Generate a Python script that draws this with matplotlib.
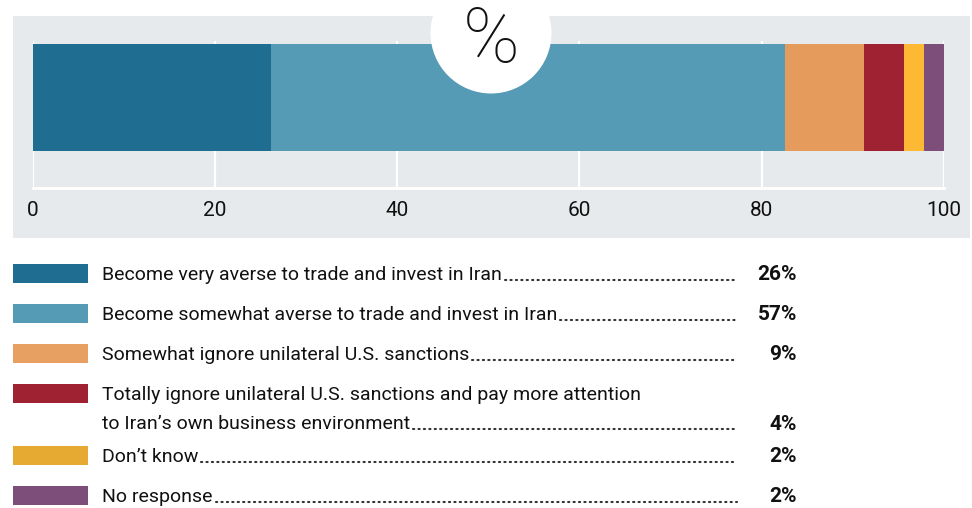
import numpy as np
import matplotlib
matplotlib.use('Agg')
import matplotlib.pyplot as plt
from matplotlib.patches import Rectangle, Ellipse

# shares (percent of respondents)
categories = [
    'Become very averse to trade and invest in Iran',
    'Become somewhat averse to trade and invest in Iran',
    'Somewhat ignore unilateral U.S. sanctions',
    'Totally ignore unilateral U.S. sanctions and pay more attention\nto Iran\u2019s own business environment',
    'Don\u2019t know',
    'No response',
]
shares = [26.1, 56.5, 8.7, 4.3, 2.2, 2.2]
share_labels = ['26%', '57%', '9%', '4%', '2%', '2%']
bar_colors = ['#1f6e91', '#559bb6', '#e49b5c', '#9e2232', '#fdb934', '#7d4e79']
swatch_colors = ['#1f6e91', '#559bb6', '#e8a062', '#9e2232', '#e6aa32', '#7d4e79']
xticks = [0, 20, 40, 60, 80, 100]

W, H = 972, 508
FONT = ['Roboto', 'DejaVu Sans']
plt.rcParams['font.family'] = FONT

fig = plt.figure(figsize=(W / 100, H / 100), dpi=100)
fig.patch.set_facecolor('white')

def fx(px):
    return px / W

def fy(py):
    return 1 - py / H

# gray panel behind the bar
fig.add_artist(Rectangle((fx(13), fy(238)), fx(970) - fx(13), fy(16) - fy(238),
                         transform=fig.transFigure, facecolor='#e7eaec',
                         edgecolor='none', zorder=-1))

ax = fig.add_axes([fx(33), fy(188), fx(943.7) - fx(33), fy(41) - fy(188)])
ax.set_facecolor('none')
ax.set_xlim(0, 100)
ax.set_ylim(0, 1)
left = 0
for v, c in zip(shares, bar_colors):
    ax.barh(0.616, v, left=left, height=0.728, color=c, edgecolor='none', zorder=2)
    left += v
for t in xticks:
    ax.axvline(t, color='white', lw=1.6, zorder=1)
for s in ['top', 'left', 'right']:
    ax.spines[s].set_visible(False)
ax.spines['bottom'].set_color('white')
ax.spines['bottom'].set_linewidth(2)
ax.set_yticks([])
ax.set_xticks(xticks)
ax.tick_params(axis='x', length=0, pad=9, labelsize=15, labelcolor='#111111')

# percent badge
fig.add_artist(Ellipse((fx(491), fy(33)), fx(121), 121 / H, transform=fig.transFigure,
                       facecolor='white', edgecolor='none', zorder=3))
fig.text(fx(491), fy(62), '%', ha='center', va='baseline', fontsize=55,
         fontweight='light', color='#111111', zorder=4)

# legend
row_y = [273, 313, 353, 393, 455, 495]
line_gap = 29
dots_end = 737
fig.canvas.draw()
renderer = fig.canvas.get_renderer()
for i, (lab, val, c) in enumerate(zip(categories, share_labels, swatch_colors)):
    y0 = row_y[i]
    fig.add_artist(Rectangle((fx(13), fy(y0 + 9.5)), fx(88) - fx(13), 19 / H,
                             transform=fig.transFigure, facecolor=c, edgecolor='none'))
    lines = lab.split('\n')
    for j, ln in enumerate(lines):
        t = fig.text(fx(102), fy(y0 + j * line_gap), ln, ha='left', va='center_baseline',
                     fontsize=14, color='#111111')
    ylast = y0 + (len(lines) - 1) * line_gap
    bb = t.get_window_extent(renderer)
    x_end = bb.x1 + 3
    fig.add_artist(plt.Line2D([x_end / W, fx(dots_end)], [fy(ylast + 7), fy(ylast + 7)],
                              transform=fig.transFigure, color='#333333', lw=1.5,
                              linestyle=(0, (0.6, 2.0)), dash_capstyle='round'))
    fig.text(fx(797), fy(ylast), val, ha='right', va='center_baseline', fontsize=15,
             fontweight='bold', color='#111111')

fig.savefig('out.png', dpi=100)
